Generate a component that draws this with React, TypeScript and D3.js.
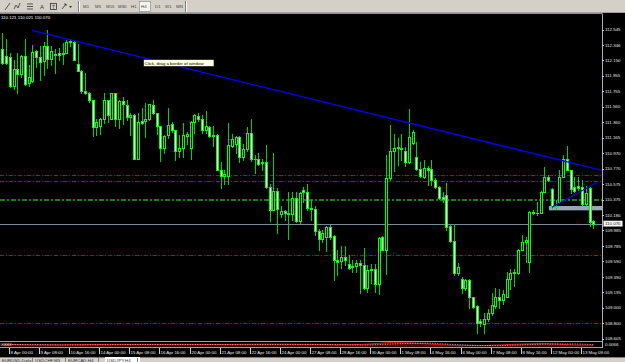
import React from "react";
import * as d3 from "d3";

const openP = [112.30,112.21,112.19,111.82,112.04,111.98,112.21,111.86,111.89,112.27,112.19,112.14,112.34,112.17,112.23,112.24,112.25,112.25,112.40,112.38,112.11,112.02,111.76,111.73,111.65,111.30,111.31,111.41,111.65,111.41,111.73,111.41,111.63,111.58,111.43,111.45,110.90,111.38,111.38,111.40,111.58,111.48,111.31,111.04,111.20,111.34,111.26,111.00,111.04,111.19,111.04,111.37,111.44,111.40,111.26,111.30,111.19,111.20,110.76,110.68,110.68,111.06,111.09,111.18,110.92,111.02,111.23,110.90,110.90,110.84,110.86,110.54,110.25,110.49,110.19,110.23,110.21,110.19,110.40,110.11,110.50,110.48,110.27,110.26,109.98,109.88,109.90,110.03,109.91,109.61,109.59,109.64,109.56,109.53,109.53,109.57,109.54,109.25,109.49,109.49,109.30,109.90,109.74,110.65,110.99,111.05,111.03,111.00,110.85,111.10,110.92,110.77,110.67,110.78,110.77,110.63,110.54,110.41,110.44,110.04,109.85,109.44,109.36,109.25,109.35,109.13,109.02,108.83,108.79,108.85,108.93,109.02,109.13,109.10,109.14,109.36,109.44,109.44,109.74,109.84,109.58,110.22,110.20,110.21,110.48,110.67,110.51,110.28,110.35,110.67,110.90,110.75,110.54,110.55,110.54,110.32,110.52,110.10];
const highP = [112.50,112.43,112.25,112.16,112.24,112.22,112.43,112.09,112.35,112.28,112.33,112.38,112.54,112.33,112.30,112.31,112.37,112.41,112.42,112.40,112.36,112.03,111.99,111.75,111.65,111.41,111.42,111.73,111.65,111.74,111.74,111.65,111.68,111.65,111.48,111.47,111.48,111.54,111.61,111.60,111.65,111.48,111.31,111.20,111.54,111.36,111.27,111.20,111.35,111.24,111.38,111.47,111.48,111.45,111.50,111.31,111.31,111.21,110.86,110.75,111.35,111.21,111.19,111.19,111.09,111.30,111.40,110.94,110.97,110.90,111.07,110.58,110.97,110.52,110.29,110.25,110.48,110.48,110.47,110.47,110.54,110.57,110.37,110.29,110.00,109.99,110.04,110.05,109.92,109.73,109.78,109.78,109.67,109.61,109.61,109.61,109.76,109.54,109.56,109.56,109.90,109.91,110.94,111.33,111.21,111.16,111.21,111.05,111.53,111.26,111.11,110.86,110.88,110.80,110.88,110.65,110.55,110.48,110.59,110.05,110.07,109.57,109.39,109.37,109.37,109.14,109.03,108.86,108.93,108.98,109.18,109.25,109.24,109.23,109.46,109.49,109.49,109.75,109.93,109.90,110.23,110.25,110.35,110.49,110.79,110.69,110.52,110.37,110.75,110.94,111.06,110.76,110.67,110.66,110.63,110.55,110.54,110.121];
const lowP = [112.11,112.11,111.81,111.79,111.74,111.94,111.84,111.82,111.88,112.07,111.90,111.96,112.05,112.09,111.99,112.16,112.11,112.24,112.33,112.15,112.01,111.73,111.72,111.62,111.19,111.20,111.21,111.35,111.37,111.40,111.31,111.29,111.34,111.39,111.20,110.89,110.89,111.34,111.17,111.39,111.47,111.21,110.87,110.97,111.16,111.24,110.88,110.92,110.92,111.09,110.90,111.22,111.38,111.22,111.22,111.17,111.06,110.75,110.52,110.57,110.58,111.05,110.97,110.86,110.88,111.00,110.87,110.71,110.82,110.76,110.53,110.10,110.24,109.95,110.16,110.12,109.87,110.12,110.09,110.08,110.35,110.25,110.12,109.92,109.73,109.84,109.72,109.88,109.35,109.41,109.50,109.54,109.49,109.46,109.46,109.19,109.24,109.20,109.31,109.20,109.17,109.73,109.43,110.63,110.74,110.82,110.88,110.80,110.84,111.08,110.75,110.66,110.65,110.56,110.56,110.52,110.38,110.35,109.99,109.83,109.41,109.41,109.18,109.22,109.00,108.99,108.68,108.76,108.67,108.83,108.90,109.00,109.00,109.05,109.13,109.24,109.27,109.43,109.73,109.58,109.46,110.19,110.18,110.20,110.47,110.61,110.27,110.26,110.34,110.66,110.75,110.46,110.47,110.50,110.31,110.31,110.04,110.021];
const closeP = [112.12,112.12,111.82,112.04,111.98,112.21,111.85,111.94,112.26,112.20,112.13,112.33,112.17,112.27,112.22,112.22,112.23,112.39,112.38,112.16,112.02,111.76,111.73,111.65,111.30,111.36,111.41,111.65,111.45,111.73,111.41,111.63,111.59,111.43,111.46,110.90,111.36,111.35,111.40,111.59,111.48,111.31,111.04,111.19,111.33,111.26,111.00,111.03,111.20,111.21,111.37,111.45,111.40,111.27,111.31,111.19,111.20,110.76,110.68,110.70,111.07,111.15,111.17,110.92,111.02,111.23,110.89,110.89,110.83,110.86,110.54,110.25,110.49,110.26,110.23,110.20,110.19,110.40,110.10,110.46,110.47,110.27,110.26,109.98,109.87,109.95,110.03,109.90,109.61,109.58,109.64,109.61,109.51,109.52,109.57,109.54,109.25,109.48,109.48,109.30,109.89,109.74,110.65,110.99,111.04,111.03,111.02,110.85,111.18,111.24,110.77,110.68,110.78,110.76,110.63,110.54,110.40,110.39,110.03,109.85,109.44,109.52,109.25,109.35,109.13,109.01,108.80,108.80,108.85,108.93,109.03,109.13,109.10,109.17,109.36,109.44,109.46,109.74,109.84,109.86,110.22,110.20,110.21,110.48,110.67,110.63,110.29,110.29,110.66,110.90,110.76,110.51,110.49,110.53,110.32,110.46,110.09,110.070];

const priceTicks = [112.545,112.346,112.150,111.955,111.755,111.560,111.360,111.165,110.970,110.770,110.575,110.375,110.180,109.985,109.785,109.590,109.390,109.195,109.000,108.800,108.605];
const timeLabels = ["8 Apr 00:00","9 Apr 08:00","10 Apr 16:00","14 Apr 00:00","15 Apr 08:00","16 Apr 16:00","20 Apr 00:00","21 Apr 08:00","22 Apr 16:00","24 Apr 00:00","27 Apr 08:00","28 Apr 16:00","30 Apr 00:00","1 May 08:00","4 May 16:00","6 May 00:00","7 May 08:00","8 May 16:00","12 May 00:00","13 May 08:00"];
const timeLabelBars = [2,10,18,26,34,42,50,58,66,74,82,90,98,106,114,122,130,138,146,154];

const redLevels = [110.69, 110.61, 109.67, 108.81];
const greenLevel = 110.37;
const bidPrice = 110.070;
const headerText = "110.121 110.021 110.070";

const trendBars = [7.9, 160];
const trendPrices = [112.535, 110.742];
const trend2Bars = [146.0, 158.3];
const trend2Prices = [110.279, 110.605];
const zoneBars = [145.2, 159.5];
const zonePrices = [110.295, 110.240];

const timeframes = ["M1","M5","M15","M30","H1","H4","D1","W1","MN"];
const tabs = ["EURUSD,Daily","USDCHF,M5","EURCAD,H4","USDJPY,H4"];

const indBars = [0,8,16,24,32,40,48,56,64,72,80,88,96,104,112,120,128,136,144,152,157];
const oscValues = [0.6,0.3,0.35,0.45,0.5,0.5,0.5,0.45,0.5,0.55,0.45,0.35,0.5,1.0,0.7,0.2,0.15,0.5,0.7,0.3,0.25];
const sigValues = [0.4,0.45,0.3,0.35,0.4,0.45,0.45,0.45,0.4,0.45,0.5,0.4,0.3,0.6,0.85,0.45,0.15,0.25,0.55,0.6,0.4];

const FONT = "'Liberation Sans', Arial, sans-serif";
const FS = 4.4;

export default function App() {
  const W = 625, H = 362;
  const chartRight = 602;
  const x = d3.scaleLinear().domain([0, 157]).range([2.3, 593.3]);
  const y = d3.scaleLinear().domain([108.8, 112.545]).range([323.3, 29.5]);
  const yi = d3.scaleLinear().domain([0, 1]).range([346, 342.6]);

  const oscLine = d3.line<number>().x((_, i) => x(indBars[i])).y((v) => yi(v)).curve(d3.curveMonotoneX);
  const oscArea = d3.area<number>().x((_, i) => x(indBars[i])).y0(346.5).y1((v) => yi(v)).curve(d3.curveMonotoneX);

  const tfX = [83, 95, 106, 118, 131, 141, 155, 165, 176];
  const tabX = [1, 34, 67, 106];

  return (
    <svg width={W} height={H} style={{ position: "absolute", left: 0, top: 0, background: "#000" }} fontFamily={FONT}>
      <defs>
        <clipPath id="main"><rect x={0} y={14} width={chartRight} height={327} /></clipPath>
        <clipPath id="ind"><rect x={0} y={342} width={chartRight} height={5} /></clipPath>
      </defs>
      <rect x={0} y={0} width={W} height={H} fill="#000" />

      {/* toolbar */}
      <rect x={0} y={0} width={W} height={13} fill="#d4d0c8" />
      <line x1={0} x2={W} y1={12.5} y2={12.5} stroke="#a0a0a0" />
      <g stroke="#333" strokeWidth={0.8} fill="none">
        <line x1={5} y1={10} x2={10} y2={3} />
        <path d="M14,9 L16,5 L18,8 L20,3" />
        <line x1={27} x2={33} y1={4} y2={4} />
        <line x1={27} x2={33} y1={6.5} y2={6.5} />
        <line x1={27} x2={33} y1={9} y2={9} />
        <rect x={50.5} y={3.5} width={6} height={6} />
        <path d="M62,9 L66,4 M64,4 L66,4 L66,6" />
      </g>
      <text x={40} y={9} fontSize={6} fill="#333">A</text>
      <text x={52} y={8.6} fontSize={5} fill="#333">T</text>
      <path d="M69,6 L72,6 L70.5,8 Z" fill="#333" />
      <line x1={78.5} x2={78.5} y1={1} y2={12} stroke="#808080" />
      <line x1={79.5} x2={79.5} y1={1} y2={12} stroke="#fff" />
      <rect x={139.5} y={1.5} width={11} height={10} fill="#f4f3ee" stroke="#808080" strokeWidth={0.6} />
      {timeframes.map((t, i) => (
        <text key={t} x={tfX[i]} y={8.3} fontSize={FS} fill="#444">{t}</text>
      ))}
      <line x1={185.5} x2={185.5} y1={1} y2={12} stroke="#808080" />
      <line x1={186.5} x2={186.5} y1={1} y2={12} stroke="#fff" />

      {/* chart frame */}
      <line x1={0} x2={chartRight} y1={13.5} y2={13.5} stroke="#909090" />
      <line x1={chartRight + 0.5} x2={chartRight + 0.5} y1={13.5} y2={348} stroke="#b0b0b0" />
      <text x={1} y={19.3} fontSize={FS} fill="#fff">{headerText}</text>

      <g clipPath="url(#main)">
        {redLevels.map((p, i) => (
          <line key={"r" + i} x1={0} x2={chartRight} y1={Math.round(y(p)) + 0.5} y2={Math.round(y(p)) + 0.5}
            stroke="#d00000" strokeDasharray="4,2,1,2" />
        ))}
        <line x1={0} x2={chartRight} y1={Math.round(y(greenLevel))} y2={Math.round(y(greenLevel))}
          stroke="#22a822" strokeWidth={1.6} strokeDasharray="5,2,2,2" />
        <line x1={0} x2={chartRight} y1={Math.round(y(bidPrice)) + 0.5} y2={Math.round(y(bidPrice)) + 0.5} stroke="#7a8899" />
        <rect x={x(zoneBars[0])} y={y(zonePrices[0])} width={x(zoneBars[1]) - x(zoneBars[0])}
          height={y(zonePrices[1]) - y(zonePrices[0])} fill="#9ba6b5" />

        {openP.map((o, i) => {
          const c = closeP[i], h = highP[i], l = lowP[i];
          const cx = Math.round(x(i)) + 0.5;
          const yt = Math.round(y(Math.max(o, c))) + 0.5;
          const yb = Math.round(y(Math.min(o, c))) + 0.5;
          const bull = c >= o;
          return (
            <g key={i} shapeRendering="crispEdges">
              <line x1={cx} x2={cx} y1={Math.round(y(h))} y2={Math.round(y(l)) + 1} stroke="#00d400" />
              {yb - yt < 1 ? (
                <line x1={cx - 1.5} x2={cx + 1.5} y1={yt} y2={yt} stroke="#00ff00" />
              ) : (
                <rect x={cx - 1} y={yt} width={2} height={yb - yt} fill={bull ? "#000" : "#fff"} stroke="#00ff00" />
              )}
            </g>
          );
        })}

        <line x1={x(trendBars[0])} y1={y(trendPrices[0])} x2={x(trendBars[1])} y2={y(trendPrices[1])} stroke="#0000ff" strokeWidth={1.3} />
        <line x1={x(trend2Bars[0])} y1={y(trend2Prices[0])} x2={x(trend2Bars[1])} y2={y(trend2Prices[1])} stroke="#0000ff" strokeWidth={1.3} />

        <rect x={143.5} y={59.5} width={70.5} height={7} fill="#ffffe1" stroke="#000" strokeWidth={0.6} />
        <text x={144.5} y={65} fontSize={FS} fill="#000">Click, drag a border of window</text>
      </g>

      {/* price axis */}
      {priceTicks.map((p) => (
        <g key={p}>
          <line x1={chartRight} x2={chartRight + 2} y1={Math.round(y(p)) + 0.5} y2={Math.round(y(p)) + 0.5} stroke="#ccc" />
          <text x={605} y={y(p) + 1.6} fontSize={FS} fill="#e8e8e8">{p.toFixed(3)}</text>
        </g>
      ))}
      <rect x={603.5} y={y(bidPrice) - 2.8} width={19} height={5.6} fill="#fff" stroke="#888" strokeWidth={0.5} />
      <text x={605} y={y(bidPrice) + 1.6} fontSize={FS} fill="#000">{bidPrice.toFixed(3)}</text>

      {/* indicator window */}
      <line x1={0} x2={chartRight} y1={341.5} y2={341.5} stroke="#a0a0a0" />
      <line x1={0} x2={chartRight} y1={347.5} y2={347.5} stroke="#a0a0a0" />
      <g clipPath="url(#ind)">
        <path d={oscArea(oscValues) || ""} fill="#5a0000" />
        <path d={oscLine(oscValues) || ""} fill="none" stroke="#ff1010" strokeWidth={0.9} />
        <path d={oscLine(sigValues) || ""} fill="none" stroke="#ffffff" strokeWidth={0.7} strokeDasharray="1,1.5" />
      </g>
      <text x={0.5} y={345.6} fontSize={3.6} fill="#ddd">0.0063</text>
      <text x={605} y={346.2} fontSize={FS} fill="#e8e8e8">0.0066</text>

      {/* time axis */}
      {timeLabels.map((t, i) => {
        const tx = Math.round(x(timeLabelBars[i])) + 0.5;
        return (
          <g key={t}>
            <line x1={tx - 1} x2={tx - 1} y1={348} y2={354} stroke="#ccc" />
            <text x={tx} y={354} fontSize={FS} fill="#e8e8e8">{t}</text>
          </g>
        );
      })}

      {/* tabs */}
      <rect x={0} y={357} width={W} height={5} fill="#d4d0c8" />
      <line x1={0} x2={W} y1={357.5} y2={357.5} stroke="#808080" />
      <rect x={105} y={357} width={35} height={5} fill="#fff" />
      {tabs.map((t, i) => (
        <g key={t}>
          <text x={tabX[i] + 1} y={361.8} fontSize={FS} fill="#333">{t}</text>
          <line x1={tabX[i] + 31.5} x2={tabX[i] + 31.5} y1={358} y2={362} stroke="#808080" />
        </g>
      ))}
    </svg>
  );
}
